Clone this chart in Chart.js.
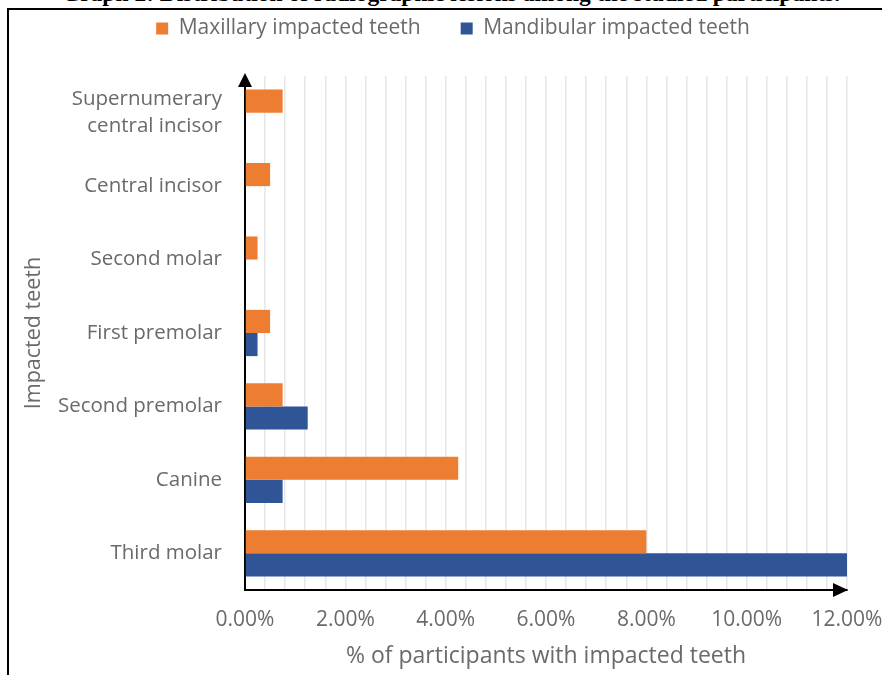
<!DOCTYPE html>
<html>
<head>
<meta charset="utf-8">
<script src="https://cdn.jsdelivr.net/npm/chart.js@4/dist/chart.umd.min.js"></script>
<style>
  html, body { margin: 0; padding: 0; background: #fff; }
  body { width: 882px; height: 675px; position: relative; overflow: hidden; }
  #frame {
    position: absolute; left: 7px; top: 8px; width: 900px; height: 700px;
    border-left: 2px solid #000; border-top: 2px solid #000;
  }
  #caption {
    position: absolute; left: 10px; width: 882px; top: -20px;
    text-align: center; font: bold 23.5px "Liberation Serif", serif; color: #000;
    white-space: nowrap;
  }
  #wrap { position: absolute; left: 0; top: 0; width: 882px; height: 675px; }
</style>
</head>
<body>
<div id="caption">Graph 2: Distribution of radiographic lesions among the studied participants.</div>
<div id="frame"></div>
<div id="wrap"><canvas id="chart"></canvas></div>
<script>
// impacted teeth, top to bottom as drawn
const teeth = [
  ["Supernumerary", "central incisor"],
  "Central incisor",
  "Second molar",
  "First premolar",
  "Second premolar",
  "Canine",
  "Third molar"
];
const maxillary = [0.75, 0.5, 0.25, 0.5, 0.75, 4.25, 8.0];
const mandibular = [0, 0, 0, 0.25, 1.25, 0.75, 12.0];
const xMin = 0;
const xMax = 12;
const gridStep = 0.4;
const labelStep = 2;

const textGrey = "#6a6a6a";
const font = "'Open Sans', sans-serif";

// black arrow heads at the ends of both axes
const axisArrows = {
  id: "axisArrows",
  afterDraw(chart) {
    const { ctx, chartArea } = chart;
    const x0 = chartArea.left, y0 = chartArea.bottom;
    ctx.save();
    ctx.fillStyle = "#000";
    ctx.beginPath();
    ctx.moveTo(x0, chartArea.top - 3);
    ctx.lineTo(x0 - 7, chartArea.top + 11);
    ctx.lineTo(x0 + 7, chartArea.top + 11);
    ctx.closePath();
    ctx.fill();
    ctx.beginPath();
    ctx.moveTo(chartArea.right + 1, y0);
    ctx.lineTo(chartArea.right - 14, y0 - 7);
    ctx.lineTo(chartArea.right - 14, y0 + 7);
    ctx.closePath();
    ctx.fill();
    ctx.restore();
  }
};

// lift the legend closer to the frame and nudge it right, plot stays put
const legendLift = {
  id: "legendLift",
  afterLayout(chart) {
    const lg = chart.legend;
    const up = 27, right = 12;
    lg.top -= up;
    lg.bottom -= up;
    lg.left += right;
    lg.right += right;
  }
};

new Chart(document.getElementById("chart"), {
  type: "bar",
  data: {
    labels: teeth,
    datasets: [
      { label: "Maxillary impacted teeth", data: maxillary, backgroundColor: "#ED7D31" },
      { label: "Mandibular impacted teeth", data: mandibular, backgroundColor: "#2F5597" }
    ]
  },
  options: {
    indexAxis: "y",
    responsive: true,
    maintainAspectRatio: false,
    animation: false,
    layout: { padding: { top: 5, right: 0, left: 0, bottom: 0 } },
    datasets: { bar: { categoryPercentage: 0.63, barPercentage: 1 } },
    plugins: {
      legend: {
        position: "top",
        labels: {
          boxWidth: 12, boxHeight: 12, padding: 40,
          color: textGrey, font: { family: font, size: 21 }
        }
      },
      tooltip: { enabled: false }
    },
    scales: {
      x: {
        min: xMin, max: xMax,
        afterFit(scale) {
          scale.height = 85;
          scale.paddingLeft = 0;
          scale.paddingRight = 35;
        },
        afterBuildTicks(scale) {
          const ticks = [];
          for (let i = 0; i <= Math.round((xMax - xMin) / gridStep); i++) {
            ticks.push({ value: +(xMin + i * gridStep).toFixed(1) });
          }
          scale.ticks = ticks;
        },
        ticks: {
          autoSkip: false, maxRotation: 0, padding: 17,
          color: textGrey, font: { family: font, size: 21 },
          callback(v) {
            return Math.round(v * 10) % (labelStep * 10) === 0 ? v.toFixed(2) + "%" : "";
          }
        },
        grid: { color: "#e6e6e6", lineWidth: 1.5, drawTicks: false },
        border: { color: "#000", width: 2 },
        title: {
          display: true, text: "% of participants with impacted teeth",
          color: textGrey, font: { family: font, size: 23 }, padding: { top: 0, bottom: 5 }
        }
      },
      y: {
        afterFit(scale) { scale.width = 245; },
        ticks: {
          padding: 23, color: textGrey,
          font: { family: font, size: 20.5, lineHeight: 1.3 }
        },
        grid: { display: false, drawTicks: false },
        border: { color: "#000", width: 2 },
        title: {
          display: true, text: "Impacted teeth",
          color: textGrey, font: { family: font, size: 21.5 }, padding: { top: 21, bottom: 0 }
        }
      }
    }
  },
  plugins: [axisArrows, legendLift]
});
</script>
</body>
</html>
